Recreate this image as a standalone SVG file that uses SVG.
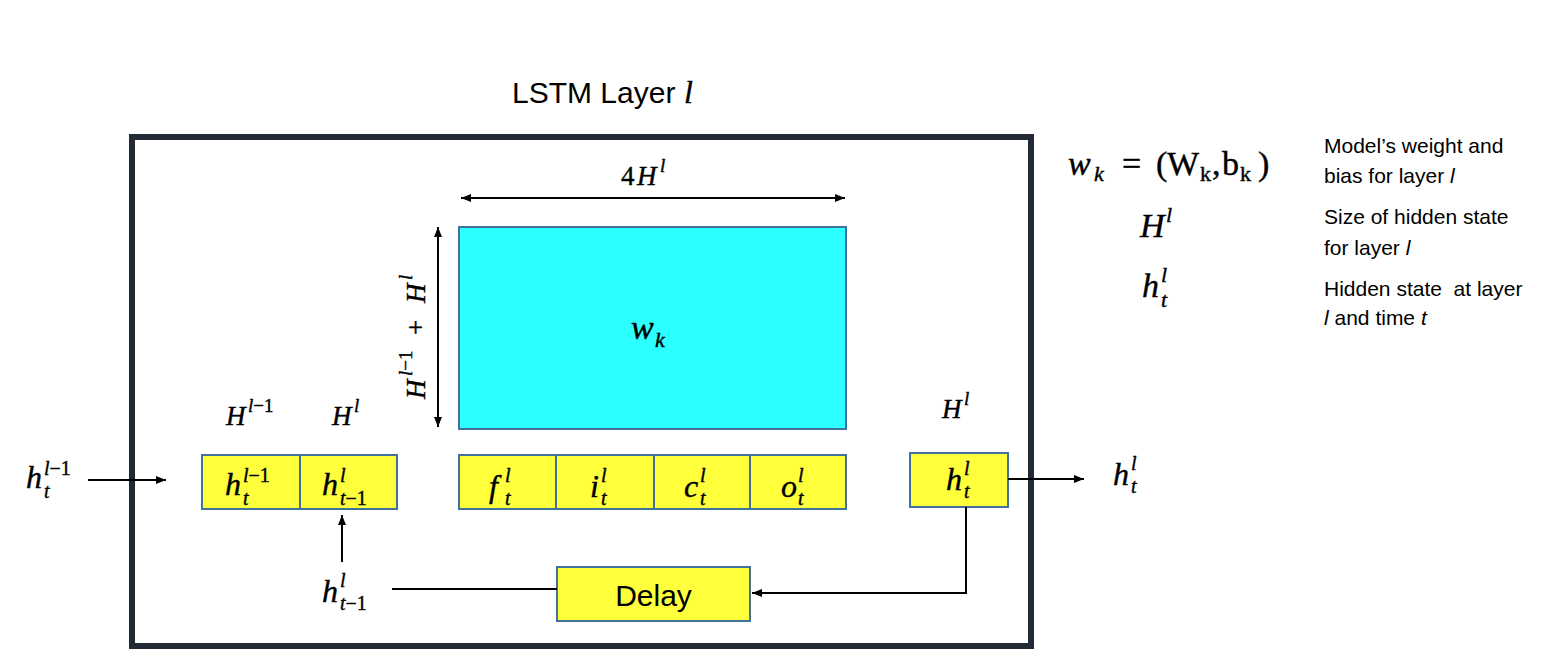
<svg xmlns="http://www.w3.org/2000/svg" width="1552" height="668" viewBox="0 0 1552 668">
<defs>
<style>
.box{fill:#FFFF3C;stroke:#41719C;stroke-width:2}
.cyan{fill:#2BFFFF;stroke:#41719C;stroke-width:2}
.frame{fill:none;stroke:#222A35;stroke-width:6}
.div{stroke:#41719C;stroke-width:2}
.m{font-family:"Liberation Serif","Times New Roman",serif;font-style:italic;fill:#000;stroke:#000;stroke-width:0.4}
.r{font-style:normal}
.t{font-family:"Liberation Sans",Arial,sans-serif;fill:#000}
.ln{stroke:#000;stroke-width:2;fill:none}
.b{font-size:32px}
.s{font-size:20px}
.hb{font-size:27px}
.hs{font-size:19px}
.lb{font-size:34px}
.ls{font-size:22px}
</style>
<marker id="arr" viewBox="0 0 10 8" refX="10" refY="4" markerWidth="10" markerHeight="8" markerUnits="userSpaceOnUse" orient="auto-start-reverse">
<path d="M0,0 L10,4 L0,8 z" fill="#000"/>
</marker>
</defs>
<rect width="1552" height="668" fill="#fff"/>

<g id="title">
<text class="t" x="512" y="103" font-size="30">LSTM Layer</text>
<text class="m" x="684" y="103" font-size="32">l</text>
</g>

<g id="layer">
<rect class="frame" x="132" y="137" width="899" height="509"/>
</g>

<g id="weights">
<rect class="cyan" x="459" y="227" width="387" height="202"/>
<text class="m lb" x="631" y="339">w</text>
<text class="m ls" x="655" y="347">k</text>
</g>

<g id="input">
<rect class="box" x="202" y="455" width="195" height="54"/>
<line class="div" x1="300" y1="455" x2="300" y2="509"/>
<text class="m b" x="225" y="495">h</text>
<text class="m s" x="243" y="482">l<tspan class="r">−1</tspan></text>
<text class="m s" x="243" y="505">t</text>
<text class="m b" x="322" y="495">h</text>
<text class="m s" x="340" y="482">l</text>
<text class="m s" x="340" y="505">t<tspan class="r">−1</tspan></text>
</g>

<g id="gates">
<rect class="box" x="459" y="455" width="387" height="54"/>
<line class="div" x1="556" y1="455" x2="556" y2="509"/>
<line class="div" x1="654" y1="455" x2="654" y2="509"/>
<line class="div" x1="750" y1="455" x2="750" y2="509"/>
<text class="m b" x="489" y="497">f</text>
<text class="m s" x="505" y="482">l</text>
<text class="m s" x="505" y="505">t</text>
<text class="m b" x="590" y="497">i</text>
<text class="m s" x="601" y="482">l</text>
<text class="m s" x="601" y="505">t</text>
<text class="m b" x="684" y="497">c</text>
<text class="m s" x="700" y="482">l</text>
<text class="m s" x="700" y="505">t</text>
<text class="m b" x="781" y="497">o</text>
<text class="m s" x="798" y="482">l</text>
<text class="m s" x="798" y="505">t</text>
</g>

<g id="output">
<rect class="box" x="910" y="453" width="98" height="54"/>
<text class="m b" x="946" y="490">h</text>
<text class="m s" x="964" y="475">l</text>
<text class="m s" x="964" y="498">t</text>
</g>

<g id="delay">
<rect class="box" x="557" y="567" width="193" height="54"/>
<text class="t" x="653.5" y="606" font-size="30" text-anchor="middle">Delay</text>
</g>

<g id="labels">
<text class="m hb" x="226" y="425">H</text>
<text class="m hs" x="248" y="412">l<tspan class="r">−1</tspan></text>
<text class="m hb" x="332" y="425">H</text>
<text class="m hs" x="354" y="412">l</text>
<text class="m hb" x="942" y="418">H</text>
<text class="m hs" x="964" y="405">l</text>
<text class="m hb r" x="621" y="185">4</text>
<text class="m hb" x="637" y="185">H</text>
<text class="m hs" x="660" y="172">l</text>
<g transform="translate(425,399) rotate(-90)">
<text class="m hb" x="0" y="0">H</text>
<text class="m hs" x="23" y="-13">l<tspan class="r">−1</tspan></text>
<text class="m hb r" x="64" y="0">+</text>
<text class="m hb" x="96" y="0">H</text>
<text class="m hs" x="119" y="-13">l</text>
</g>
<text class="m b" x="26" y="488">h</text>
<text class="m s" x="44" y="475">l<tspan class="r">−1</tspan></text>
<text class="m s" x="44" y="498">t</text>
<text class="m b" x="1113" y="485">h</text>
<text class="m s" x="1131" y="470">l</text>
<text class="m s" x="1131" y="493">t</text>
<text class="m b" x="322" y="602">h</text>
<text class="m s" x="340" y="587">l</text>
<text class="m s" x="340" y="610">t<tspan class="r">−1</tspan></text>
</g>

<g id="connectors">
<line class="ln" x1="88" y1="480" x2="166" y2="480" marker-end="url(#arr)"/>
<line class="ln" x1="1008" y1="479" x2="1084" y2="479" marker-end="url(#arr)"/>
<line class="ln" x1="342" y1="562" x2="342" y2="515" marker-end="url(#arr)"/>
<polyline class="ln" points="966,507 966,593 752,593" marker-end="url(#arr)"/>
<line class="ln" x1="557" y1="589" x2="392" y2="589"/>
<line class="ln" x1="461" y1="198" x2="845" y2="198" marker-start="url(#arr)" marker-end="url(#arr)"/>
<line class="ln" x1="438" y1="227" x2="438" y2="427" marker-start="url(#arr)" marker-end="url(#arr)"/>
</g>

<g id="legend">
<text class="m lb" x="1068" y="175">w</text>
<text class="m ls" x="1094" y="181">k</text>
<text class="m lb r" x="1122" y="175">=</text>
<text class="m lb r" x="1156" y="175">(</text>
<text class="m lb r" x="1167" y="175">W</text>
<text class="m ls r" x="1200" y="181">k</text>
<text class="m lb r" x="1212" y="175">,</text>
<text class="m lb r" x="1222" y="175">b</text>
<text class="m ls r" x="1240" y="181">k</text>
<text class="m lb r" x="1258" y="175">)</text>
<text class="m lb" x="1140" y="237">H</text>
<text class="m ls" x="1166" y="222">l</text>
<text class="m lb" x="1142" y="297">h</text>
<text class="m ls" x="1161" y="282">l</text>
<text class="m ls" x="1161" y="307">t</text>
<text class="t" x="1324" y="153" font-size="21">Model’s weight and</text>
<text class="t" x="1324" y="183" font-size="21">bias for layer <tspan font-style="italic">l</tspan></text>
<text class="t" x="1324" y="224" font-size="21">Size of hidden state</text>
<text class="t" x="1324" y="255" font-size="21">for layer <tspan font-style="italic">l</tspan></text>
<text class="t" x="1324" y="296" font-size="21" style="white-space:pre">Hidden state  at layer</text>
<text class="t" x="1324" y="325" font-size="21"><tspan font-style="italic">l</tspan> and time <tspan font-style="italic">t</tspan></text>
</g>
</svg>
